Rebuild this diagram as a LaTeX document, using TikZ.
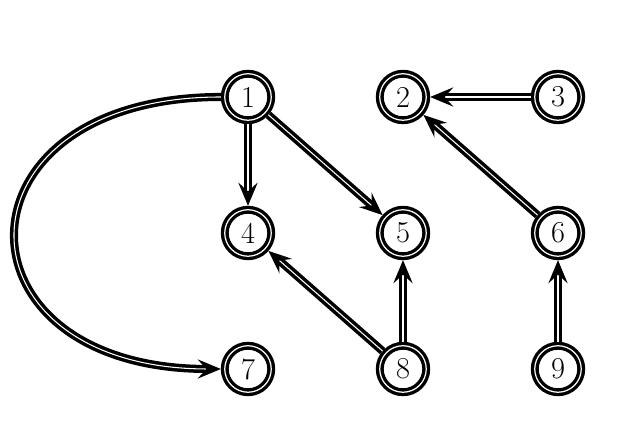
\documentclass[tikz,border=0pt]{standalone}
\usepackage{tikz}
\usetikzlibrary{arrows.meta, positioning}

\begin{document}
\begin{tikzpicture}[
    every node/.style={font=\LARGE},
    vert/.style={circle, draw, double, line width=1.9pt, double distance=0.7pt, minimum size=0.93cm, inner sep=0pt, outer sep=2.2pt},
    link/.style={-{Stealth[length=4.6mm, width=3.8mm, inset=1.7mm]}, line width=2pt, double, double distance=0.6pt}
]
\useasboundingbox (0,0) rectangle (12.4,8.84);

% Vertices
\node[vert] (v1) at (4.96,6.90)  {1};
\node[vert] (v2) at (8.06,6.90)  {2};
\node[vert] (v3) at (11.16,6.90) {3};
\node[vert] (v4) at (4.96,4.18)  {4};
\node[vert] (v5) at (8.06,4.18)  {5};
\node[vert] (v6) at (11.16,4.18) {6};
\node[vert] (v7) at (4.96,1.46)  {7};
\node[vert] (v8) at (8.06,1.46)  {8};
\node[vert] (v9) at (11.16,1.46) {9};

% Edges
\draw[link] (v1) -- (v4);
\draw[link] (v1) -- (v5);
\draw[link] (v1) to[out=180, in=180, looseness=2.58] (v7);
\draw[link] (v3) -- (v2);
\draw[link] (v6) -- (v2);
\draw[link] (v8) -- (v4);
\draw[link] (v8) -- (v5);
\draw[link] (v9) -- (v6);
\end{tikzpicture}
\end{document}
